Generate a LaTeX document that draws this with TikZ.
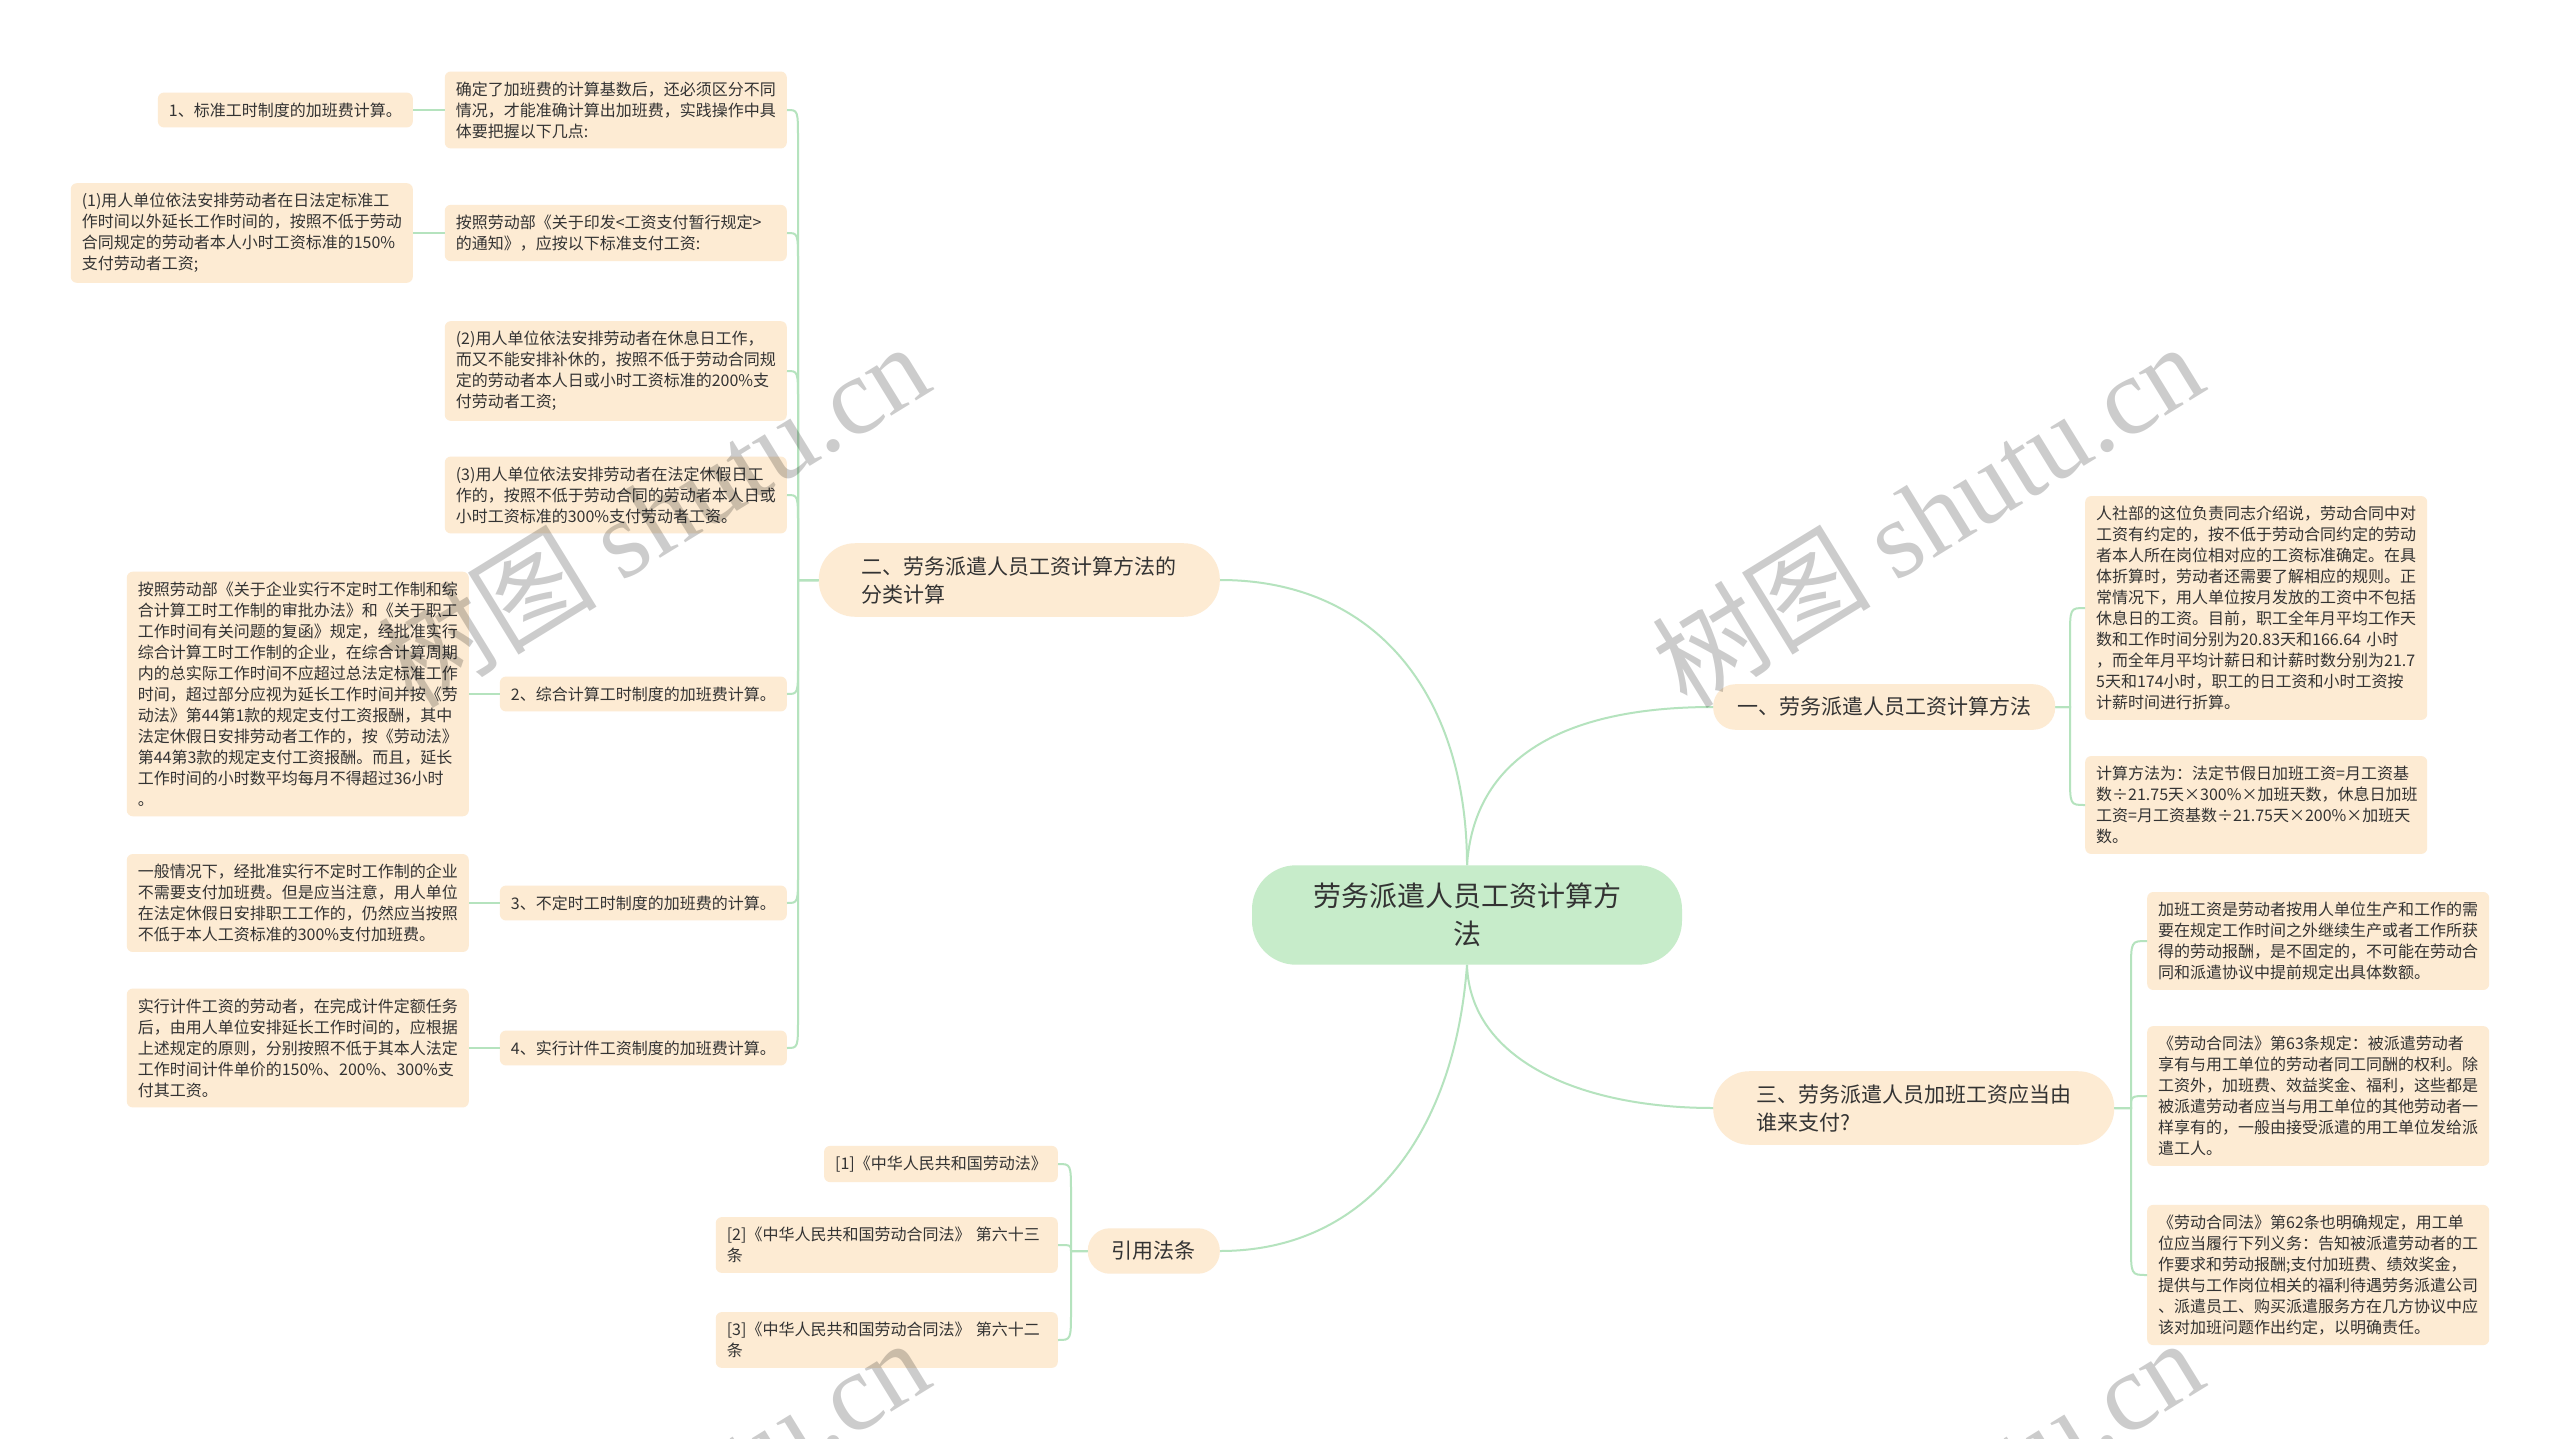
\documentclass[tikz,border=0pt]{standalone}
\usepackage{fontspec}
\setmainfont{Noto Sans CJK SC}
\newfontfamily\wmlat{Liberation Serif}
\usetikzlibrary{calc}
\definecolor{peach}{HTML}{FDEBD3}
\definecolor{rootg}{HTML}{C7ECCA}
\definecolor{edgec}{HTML}{B5E3BE}
\definecolor{txt}{HTML}{333333}
\newcommand\edgeL[4]{\draw[edge] (#1.west) -- (#3,0 |- #1.west) -- ($(#3,0 |- #2.east)+(0,#4)$) .. controls (#3,0 |- #2.east) .. (#2.east);}
\newcommand\edgeR[4]{\draw[edge] (#1.east) -- (#3,0 |- #1.east) -- ($(#3,0 |- #2.west)+(0,#4)$) .. controls (#3,0 |- #2.west) .. (#2.west);}
\begin{document}
\begin{tikzpicture}[x=1pt,y=-1pt,
  leaf/.style={fill=peach, rounded corners=6pt, inner xsep=11pt, inner ysep=10pt, text=txt, font=\fontsize{16}{21}\selectfont, align=left},
  wide/.style={leaf, text width=320pt},
  branch/.style={fill=peach, rounded corners=22pt, inner xsep=24pt, inner ysep=13pt, text=txt, font=\fontsize{21}{28}\selectfont, align=left},
  branchtwo/.style={branch, rounded corners=36pt, inner xsep=43pt},
  root/.style={fill=rootg, rounded corners=44pt, inner xsep=61pt, inner ysep=18pt, text=txt, font=\fontsize{28}{37.5}\selectfont, align=center},
  edge/.style={draw=edgec, line width=2pt},
  wm/.style={text=black, text opacity=0.2, font=\fontsize{110}{110}\selectfont, inner sep=0pt}
]
\useasboundingbox (0,0) rectangle (2560,1439);
\fill[white] (0,0) rectangle (2560,1439);

% root and main branches
\node[root] (root) at (1467,915) {劳务派遣人员工资计算方\\法};
\node[branch, anchor=west] (b1) at (1713,707) {一、劳务派遣人员工资计算方法};
\node[branchtwo, anchor=west] (b3) at (1713,1108) {三、劳务派遣人员加班工资应当由\\谁来支付?};
\node[branchtwo, anchor=east] (b2) at (1220,580) {二、劳务派遣人员工资计算方法的\\分类计算};
\node[branch, anchor=east] (cite) at (1220,1251) {引用法条};

% branch 2 children
\node[wide, anchor=east] (a1) at (787,110) {确定了加班费的计算基数后，还必须区分不同\\情况，才能准确计算出加班费，实践操作中具\\体要把握以下几点:};
\node[leaf, anchor=east] (a1c) at (413,110) {1、标准工时制度的加班费计算。};
\node[wide, anchor=east] (a2) at (787,233) {按照劳动部《关于印发<工资支付暂行规定>\\的通知》，应按以下标准支付工资:};
\node[wide, anchor=east] (a2c) at (413,233) {(1)用人单位依法安排劳动者在日法定标准工\\作时间以外延长工作时间的，按照不低于劳动\\合同规定的劳动者本人小时工资标准的150\%\\支付劳动者工资;};
\node[wide, anchor=east] (a3) at (787,371) {(2)用人单位依法安排劳动者在休息日工作，\\而又不能安排补休的，按照不低于劳动合同规\\定的劳动者本人日或小时工资标准的200\%支\\付劳动者工资;};
\node[wide, anchor=east] (a4) at (787,495) {(3)用人单位依法安排劳动者在法定休假日工\\作的，按照不低于劳动合同的劳动者本人日或\\小时工资标准的300\%支付劳动者工资。};
\node[leaf, anchor=east] (a5) at (787,694) {2、综合计算工时制度的加班费计算。};
\node[wide, anchor=east] (a5c) at (469,694) {按照劳动部《关于企业实行不定时工作制和综\\合计算工时工作制的审批办法》和《关于职工\\工作时间有关问题的复函》规定，经批准实行\\综合计算工时工作制的企业，在综合计算周期\\内的总实际工作时间不应超过总法定标准工作\\时间，超过部分应视为延长工作时间并按《劳\\动法》第44第1款的规定支付工资报酬，其中\\法定休假日安排劳动者工作的，按《劳动法》\\第44第3款的规定支付工资报酬。而且，延长\\工作时间的小时数平均每月不得超过36小时\\。};
\node[leaf, anchor=east] (a6) at (787,903) {3、不定时工时制度的加班费的计算。};
\node[wide, anchor=east] (a6c) at (469,903) {一般情况下，经批准实行不定时工作制的企业\\不需要支付加班费。但是应当注意，用人单位\\在法定休假日安排职工工作的，仍然应当按照\\不低于本人工资标准的300\%支付加班费。};
\node[leaf, anchor=east] (a7) at (787,1048) {4、实行计件工资制度的加班费计算。};
\node[wide, anchor=east] (a7c) at (469,1048) {实行计件工资的劳动者，在完成计件定额任务\\后，由用人单位安排延长工作时间的，应根据\\上述规定的原则，分别按照不低于其本人法定\\工作时间计件单价的150\%、200\%、300\%支\\付其工资。};

% branch 1 children
\node[wide, anchor=west] (b1a) at (2085,608) {人社部的这位负责同志介绍说，劳动合同中对\\工资有约定的，按不低于劳动合同约定的劳动\\者本人所在岗位相对应的工资标准确定。在具\\体折算时，劳动者还需要了解相应的规则。正\\常情况下，用人单位按月发放的工资中不包括\\休息日的工资。目前，职工全年月平均工作天\\数和工作时间分别为20.83天和166.64 小时\\，而全年月平均计薪日和计薪时数分别为21.7\\5天和174小时，职工的日工资和小时工资按\\计薪时间进行折算。};
\node[wide, anchor=west] (b1b) at (2085,805) {计算方法为：法定节假日加班工资=月工资基\\数÷21.75天×300\%×加班天数，休息日加班\\工资=月工资基数÷21.75天×200\%×加班天\\数。};

% branch 3 children
\node[wide, anchor=west] (b3a) at (2147,941) {加班工资是劳动者按用人单位生产和工作的需\\要在规定工作时间之外继续生产或者工作所获\\得的劳动报酬，是不固定的，不可能在劳动合\\同和派遣协议中提前规定出具体数额。};
\node[wide, anchor=west] (b3b) at (2147,1096) {《劳动合同法》第63条规定：被派遣劳动者\\享有与用工单位的劳动者同工同酬的权利。除\\工资外，加班费、效益奖金、福利，这些都是\\被派遣劳动者应当与用工单位的其他劳动者一\\样享有的，一般由接受派遣的用工单位发给派\\遣工人。};
\node[wide, anchor=west] (b3c) at (2147,1275) {《劳动合同法》第62条也明确规定，用工单\\位应当履行下列义务：告知被派遣劳动者的工\\作要求和劳动报酬;支付加班费、绩效奖金，\\提供与工作岗位相关的福利待遇劳务派遣公司\\、派遣员工、购买派遣服务方在几方协议中应\\该对加班问题作出约定，以明确责任。};

% citations
\node[leaf, anchor=east] (c1) at (1058,1164) {[1]《中华人民共和国劳动法》};
\node[wide, anchor=east] (c2) at (1058,1245) {[2]《中华人民共和国劳动合同法》 第六十三\\条};
\node[wide, anchor=east] (c3) at (1058,1340) {[3]《中华人民共和国劳动合同法》 第六十二\\条};

% root connectors
\draw[edge] (root.north) .. controls (1467,700) and (1380,580) .. (b2.east);
\draw[edge] (root.north) .. controls (1474,760) and (1560,707) .. (b1.west);
\draw[edge] (root.south) .. controls (1470,1060) and (1580,1108) .. (b3.west);
\draw[edge] (root.south) .. controls (1455,1130) and (1370,1251) .. (cite.east);

% branch 2 connectors
\edgeL{b2}{a1}{798}{30}
\edgeL{b2}{a2}{798}{30}
\edgeL{b2}{a3}{798}{30}
\edgeL{b2}{a4}{798}{30}
\edgeL{b2}{a5}{798}{-30}
\edgeL{b2}{a6}{798}{-30}
\edgeL{b2}{a7}{798}{-30}
\draw[edge] (a1.west) -- (a1c.east);
\draw[edge] (a2.west) -- (a2c.east);
\draw[edge] (a5.west) -- (a5c.east);
\draw[edge] (a6.west) -- (a6c.east);
\draw[edge] (a7.west) -- (a7c.east);

% branch 1 and 3 connectors
\edgeR{b1}{b1a}{2070}{30}
\edgeR{b1}{b1b}{2070}{-30}
\edgeR{b3}{b3a}{2131}{30}
\edgeR{b3}{b3b}{2131}{12}
\edgeR{b3}{b3c}{2131}{-30}

% citation connectors
\edgeL{cite}{c1}{1071}{30}
\edgeL{cite}{c2}{1071}{6}
\edgeL{cite}{c3}{1071}{-30}

% watermarks
\begin{scope}
\clip (0,0) rectangle (2560,1439);
\node[wm, rotate=31.6] (wm1) at (653,514) {树图 {\wmlat shutu.cn}};
\node[wm, rotate=31.6] (wm2) at (1927,514) {树图 {\wmlat shutu.cn}};
\node[wm, rotate=31.6] (wm3) at (653,1510) {树图 {\wmlat shutu.cn}};
\node[wm, rotate=31.6] (wm4) at (1927,1510) {树图 {\wmlat shutu.cn}};
\end{scope}
\end{tikzpicture}
\end{document}
